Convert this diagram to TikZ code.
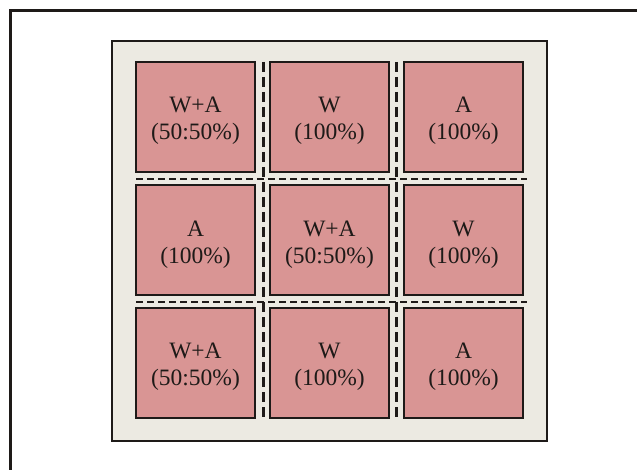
\documentclass[tikz,border=0pt]{standalone}
\usepackage{fontspec}
\setmainfont{Liberation Serif}
\definecolor{cellfill}{HTML}{D99594}
\definecolor{panelfill}{HTML}{ECEAE2}
\definecolor{ink}{HTML}{1E1A18}
\begin{document}
\begin{tikzpicture}[x=1pt,y=-1pt,
  cell/.style={draw=ink, line width=2pt, fill=cellfill, minimum width=119pt, minimum height=110pt,
    inner sep=0pt},
  celltext/.style={align=center, font=\fontsize{23.5}{27}\selectfont, text=ink, inner sep=0pt},
  vdash/.style={draw=ink, line width=3pt, dash pattern=on 10pt off 5pt},
  hdash/.style={draw=ink, line width=2pt, dash pattern=on 7pt off 4pt}]
\useasboundingbox (0,0) rectangle (637,470);
\begin{scope}
\clip (0,0) rectangle (637,470);
\draw[ink, line width=3pt, fill=white] (10.5,10.5) rectangle (700,540);
\end{scope}
\draw[ink, line width=2pt, fill=panelfill] (112,41) rectangle (547,441);
\draw[vdash] (263,62) -- (263,418);
\draw[vdash] (396,62) -- (396,418);
\draw[hdash] (136,179.5) -- (527,179.5);
\draw[hdash] (136,302) -- (527,302);
\foreach \n/\x/\y/\t in {c11/195.5/117/{W+A\\(50:50\%)}, c12/329.5/117/{W\\(100\%)}, c13/463.5/117/{A\\(100\%)},
  c21/195.5/240.5/{A\\(100\%)}, c22/329.5/240.5/{W+A\\(50:50\%)}, c23/463.5/240.5/{W\\(100\%)},
  c31/195.5/363/{W+A\\(50:50\%)}, c32/329.5/363/{W\\(100\%)}, c33/463.5/363/{A\\(100\%)}}{
  \node[cell] (\n) at (\x,\y) {};
  \node[celltext, yshift=-4pt] (\n-t) at (\n.center) {\t};
}
\end{tikzpicture}
\end{document}
